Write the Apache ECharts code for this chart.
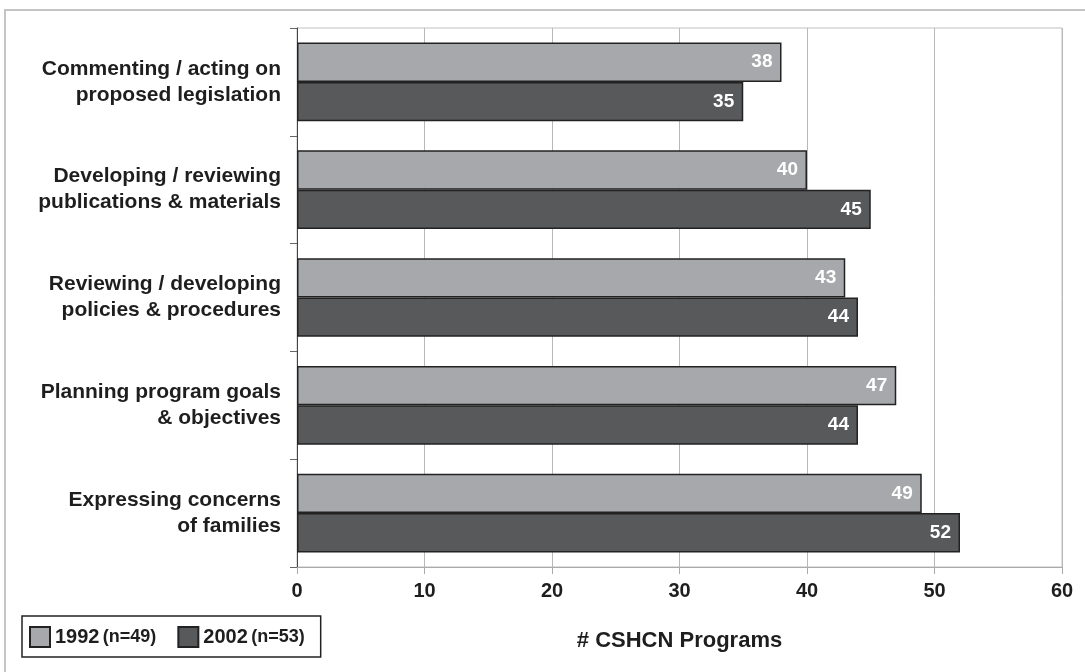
<!DOCTYPE html>
<html>
<head>
<meta charset="utf-8">
<script src="https://cdn.jsdelivr.net/npm/echarts@6/dist/echarts.min.js"></script>
<style>
  html, body { margin: 0; padding: 0; background: #fff; }
  #chart { width: 1085px; height: 672px; }
</style>
</head>
<body>
<div id="chart"></div>
<script>
// categories, top to bottom
var categories = [
  'Commenting / acting on\nproposed legislation',
  'Developing / reviewing\npublications & materials',
  'Reviewing / developing\npolicies & procedures',
  'Planning program goals\n& objectives',
  'Expressing concerns\nof families'
];
var years = ['1992', '2002'];
var sampleSizes = [49, 53];
var values1992 = [38, 40, 43, 47, 49];
var values2002 = [35, 45, 44, 44, 52];
var xTicks = [0, 10, 20, 30, 40, 50, 60];

var font = '"Liberation Sans", Arial, sans-serif';

var chart = echarts.init(document.getElementById('chart'));

var barLabel = {
  show: true,
  position: 'insideRight',
  distance: 9,
  color: '#fff',
  fontFamily: font,
  fontWeight: 'bold',
  fontSize: 19
};

var option = {
  animation: false,
  textStyle: { fontFamily: font },
  graphic: [{
    type: 'rect',
    shape: { x: 5, y: 10, width: 1200, height: 800 },
    style: { fill: 'none', stroke: '#c4c4c4', lineWidth: 2 },
    silent: true
  }],
  grid: {
    left: 297, top: 28, right: 23, bottom: 105,
    show: true, borderColor: '#c0c0c0', borderWidth: 1
  },
  legend: {
    left: 22, top: 616,
    orient: 'horizontal',
    padding: [10, 16, 9, 7],
    borderColor: '#222', borderWidth: 1.5, borderRadius: 0,
    itemWidth: 20, itemHeight: 20, itemGap: 21,
    icon: 'rect',
    itemStyle: { borderColor: '#222', borderWidth: 2 },
    formatter: function (name) {
      var n = sampleSizes[years.indexOf(name)];
      return '{a|' + name + '} {b|(n=' + n + ')}';
    },
    textStyle: {
      rich: {
        a: { fontFamily: font, fontWeight: 'bold', fontSize: 20, color: '#1e1e1e' },
        b: { fontFamily: font, fontWeight: 'bold', fontSize: 18, color: '#1e1e1e' }
      }
    },
    data: years
  },
  xAxis: {
    type: 'value',
    min: xTicks[0], max: xTicks[xTicks.length - 1], interval: 10,
    name: '# CSHCN Programs',
    nameLocation: 'middle',
    nameGap: 63,
    nameTextStyle: {
      fontFamily: font, fontWeight: 'bold', fontSize: 22, color: '#1e1e1e'
    },
    axisLine: { show: true, lineStyle: { color: '#aaa', width: 1 } },
    axisTick: { show: true, length: 7, lineStyle: { color: '#aaa' } },
    axisLabel: {
      margin: 14, fontFamily: font, fontWeight: 'bold', fontSize: 20, color: '#1e1e1e'
    },
    splitLine: { show: true, lineStyle: { color: '#b8b8b8', width: 1 } }
  },
  yAxis: {
    type: 'category',
    inverse: true,
    data: categories,
    axisLine: { show: true, lineStyle: { color: '#444', width: 1 } },
    axisTick: { show: true, length: 7, lineStyle: { color: '#666' } },
    axisLabel: {
      margin: 16, fontFamily: font, fontWeight: 'bold', fontSize: 21,
      lineHeight: 26, color: '#1e1e1e', align: 'right'
    }
  },
  series: [{
    name: years[0],
    type: 'bar',
    data: values1992,
    barGap: 0,
    barCategoryGap: '27%',
    itemStyle: { color: '#a7a8ab', borderColor: '#222', borderWidth: 1.5 },
    label: barLabel
  }, {
    name: years[1],
    type: 'bar',
    data: values2002,
    barGap: 0,
    barCategoryGap: '27%',
    itemStyle: { color: '#58595b', borderColor: '#222', borderWidth: 1.5 },
    label: barLabel
  }]
};

chart.setOption(option);
</script>
</body>
</html>
